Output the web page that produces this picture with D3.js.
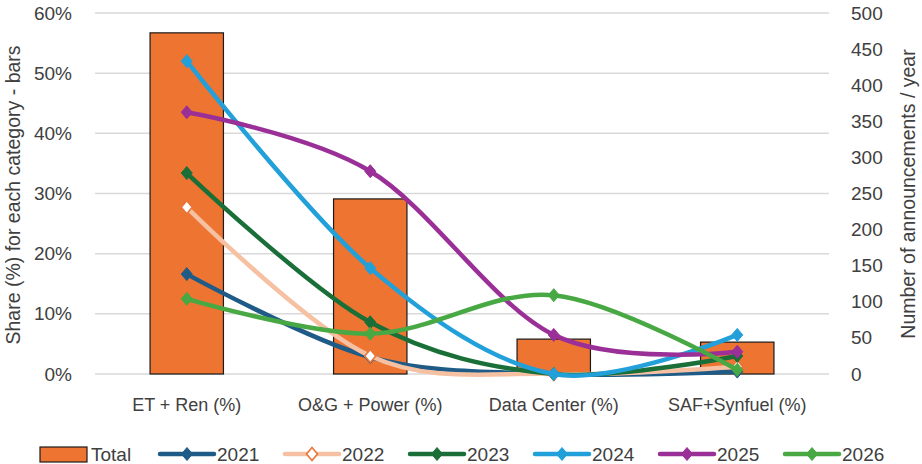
<!DOCTYPE html>
<html><head><meta charset="utf-8">
<script src="https://cdn.jsdelivr.net/npm/d3@7"></script>
<style>
body{margin:0;background:#fff;}
svg text{font-family:"Liberation Sans",Arial,sans-serif;fill:#404040;}
</style></head>
<body><svg id="c" width="922" height="464"></svg>
<script>
const categories = ["ET + Ren (%)", "O&G + Power (%)", "Data Center (%)", "SAF+Synfuel (%)"];
const totalShare = [56.7, 29.1, 5.8, 5.3];
const s2021 = [16.6, 2.8, 0.0, 0.4];
const s2022 = [27.7, 3.0, 0.0, 1.2];
const s2023 = [33.4, 8.6, 0.0, 3.0];
const s2024 = [52.0, 17.6, 0.0, 6.5];
const s2025 = [43.5, 33.7, 6.5, 3.7];
const s2026 = [12.5, 6.7, 13.1, 0.7];
const years = ["2021","2022","2023","2024","2025","2026"];
const leftTicks = [0,10,20,30,40,50,60];
const rightTicks = [0,50,100,150,200,250,300,350,400,450,500];

const seriesData = [s2021,s2022,s2023,s2024,s2025,s2026];
const colors = ["#1E5B87","#F6C1A2","#1A6F38","#22A0DA","#9A2F98","#48A844"];

const svg = d3.select("#c");
const L = 95, R = 829, T = 13, B = 374;
const x = d3.scaleBand().domain(categories).range([L,R]).paddingInner(0.6).paddingOuter(0.3);
const yL = d3.scaleLinear().domain([0,60]).range([B,T]);
const yR = d3.scaleLinear().domain([0,500]).range([B,T]);
const cx = c => x(c) + x.bandwidth()/2;

// gridlines
svg.append("g").selectAll("line").data(leftTicks).join("line")
  .attr("x1",L).attr("x2",R).attr("y1",d=>yL(d)).attr("y2",d=>yL(d))
  .attr("stroke","#d9d9d9").attr("stroke-width",1.5);

// left axis
const la = svg.append("g").attr("transform",`translate(${L},0)`)
  .call(d3.axisLeft(yL).tickValues(leftTicks).tickFormat(d=>d+"%").tickSize(0).tickPadding(23));
la.select(".domain").remove();
la.selectAll("text").style("font-size","19px").attr("fill","#404040").attr("font-family","Liberation Sans");

// right axis
const ra = svg.append("g").attr("transform",`translate(${R},0)`)
  .call(d3.axisRight(yR).tickValues(rightTicks).tickSize(0).tickPadding(22));
ra.select(".domain").remove();
ra.selectAll("text").style("font-size","19px").attr("fill","#404040").attr("font-family","Liberation Sans");

// axis titles
svg.append("text").attr("transform","translate(20,195) rotate(-90)").attr("text-anchor","middle")
  .style("font-size","19.5px").text("Share (%) for each category - bars");
svg.append("text").attr("transform","translate(915,194) rotate(-90)").attr("text-anchor","middle")
  .style("font-size","19.5px").text("Number of announcements / year");

// bars
svg.append("g").selectAll("rect").data(categories).join("rect")
  .attr("x",d=>x(d)).attr("width",x.bandwidth())
  .attr("y",(d,i)=>yL(totalShare[i])).attr("height",(d,i)=>B-yL(totalShare[i]))
  .attr("fill","#EE7431").attr("stroke","#1a1a1a").attr("stroke-width",1.2);

// category labels
svg.append("g").selectAll("text").data(categories).join("text")
  .attr("x",d=>cx(d)).attr("y",411).attr("text-anchor","middle")
  .style("font-size","18px").text(d=>d);

// lines
const line = d3.line().x((d,i)=>cx(categories[i])).y(d=>yL(d)).curve(d3.curveCardinal.tension(0));
const diamond = "M0,-6.5L5.5,0L0,6.5L-5.5,0Z";
seriesData.forEach((s,k)=>{
  svg.append("path").datum(s).attr("d",line).attr("fill","none")
    .attr("stroke",colors[k]).attr("stroke-width",4.5).attr("stroke-linecap","round");
  svg.append("g").selectAll("path").data(s).join("path")
    .attr("transform",(d,i)=>`translate(${cx(categories[i])},${yL(d)})`)
    .attr("d",diamond)
    .attr("fill", k===1 ? "#fff" : colors[k])
    .attr("stroke", k===1 ? "#E8753A" : colors[k])
    .attr("stroke-width", k===1 ? 1.6 : 1);
});

// legend
const lg = svg.append("g");
lg.append("rect").attr("x",40).attr("y",447).attr("width",47).attr("height",15)
  .attr("fill","#EE7431").attr("stroke","#1a1a1a").attr("stroke-width",1.2);
lg.append("text").attr("x",91).attr("y",461).style("font-size","19px").text("Total");
years.forEach((yr,k)=>{
  const x0 = 160 + k*125;
  lg.append("line").attr("x1",x0).attr("x2",x0+54).attr("y1",454).attr("y2",454)
    .attr("stroke",colors[k]).attr("stroke-width",4.5).attr("stroke-linecap","round");
  lg.append("path").attr("transform",`translate(${x0+27},454)`).attr("d",diamond)
    .attr("fill", k===1 ? "#fff" : colors[k])
    .attr("stroke", k===1 ? "#E8753A" : colors[k])
    .attr("stroke-width", k===1 ? 1.6 : 1);
  lg.append("text").attr("x",x0+57).attr("y",461).style("font-size","19px").text(yr);
});
</script></body></html>
